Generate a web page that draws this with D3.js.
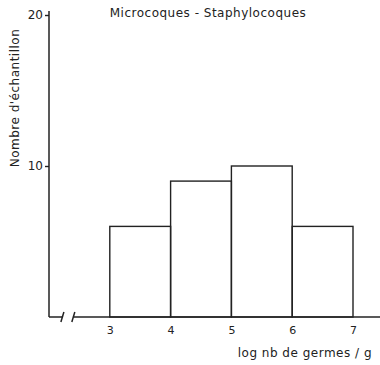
<!DOCTYPE html>
<html>
<head>
<meta charset="utf-8">
<script src="https://cdn.jsdelivr.net/npm/d3@7"></script>
<style>
  body { margin: 0; background: #fff; }
  text { font-family: "DejaVu Sans", sans-serif; fill: #222; }
</style>
</head>
<body>
<div id="chart"></div>
<script>
// histogram classes (log nb de germes / g) and counts
var binStarts = [3, 4, 5, 6];
var binWidth = 1;
var counts = [6, 9, 10, 6];
var xTicks = [3, 4, 5, 6, 7];
var yTicks = [10, 20];

var width = 380, height = 365;
var ink = "#222";

var svg = d3.select("#chart")
    .append("svg")
    .attr("width", width)
    .attr("height", height);

var x = d3.scaleLinear().domain([2, 7]).range([49, 353]);
var y = d3.scaleLinear().domain([0, 20]).range([317, 15]);

// bars
svg.append("g")
    .attr("class", "bars")
    .selectAll("rect")
    .data(binStarts)
    .enter()
    .append("rect")
    .attr("x", function (d) { return x(d); })
    .attr("y", function (d, i) { return y(counts[i]); })
    .attr("width", function (d) { return x(d + binWidth) - x(d); })
    .attr("height", function (d, i) { return y(0) - y(counts[i]); })
    .style("fill", "none")
    .style("stroke", ink)
    .style("stroke-width", 1.4);

// y axis
var yAxis = d3.axisLeft(y)
    .tickValues(yTicks)
    .tickSize(4)
    .tickPadding(2)
    .tickFormat(d3.format("d"));
var gy = svg.append("g")
    .attr("transform", "translate(" + x(2) + ",0)")
    .call(yAxis);
gy.select(".domain").remove();
gy.selectAll("line").style("stroke", ink).style("stroke-width", 1.4);
gy.selectAll("text").style("font-size", "12px").style("fill", ink);
gy.append("line")
    .attr("x1", 0).attr("x2", 0)
    .attr("y1", y(20) - 4).attr("y2", y(0))
    .style("stroke", ink).style("stroke-width", 1.5);

// x axis (labels only, broken line near origin)
var xAxis = d3.axisBottom(x)
    .tickValues(xTicks)
    .tickSize(0)
    .tickPadding(9)
    .tickFormat(d3.format("d"));
var gx = svg.append("g")
    .attr("transform", "translate(0," + y(0) + ")")
    .call(xAxis);
gx.select(".domain").remove();
gx.selectAll("text").style("font-size", "11px").style("fill", ink);

var base = y(0);
var lines = svg.append("g").attr("class", "lines")
    .style("stroke", ink).style("stroke-width", 1.5);
lines.append("line")
    .attr("x1", x(2)).attr("x2", x(2.22))
    .attr("y1", base).attr("y2", base);
lines.append("line")
    .attr("x1", x(2.4)).attr("x2", width)
    .attr("y1", base).attr("y2", base);
[2.22, 2.4].forEach(function (v) {
    lines.append("line")
        .attr("x1", x(v) - 1.5).attr("x2", x(v) + 1.5)
        .attr("y1", base + 5).attr("y2", base - 5);
});

// titles
svg.append("text")
    .attr("x", 208).attr("y", 17)
    .attr("text-anchor", "middle")
    .style("font-size", "12px")
    .style("letter-spacing", "0.5px")
    .text("Microcoques - Staphylocoques");

svg.append("text")
    .attr("x", 372).attr("y", 357)
    .attr("text-anchor", "end")
    .style("font-size", "12px")
    .style("letter-spacing", "0.5px")
    .text("log nb de germes / g");

svg.append("text")
    .attr("transform", "translate(19,98) rotate(-90)")
    .attr("text-anchor", "middle")
    .style("font-size", "12px")
    .style("letter-spacing", "0.5px")
    .text("Nombre d'échantillon");
</script>
</body>
</html>
